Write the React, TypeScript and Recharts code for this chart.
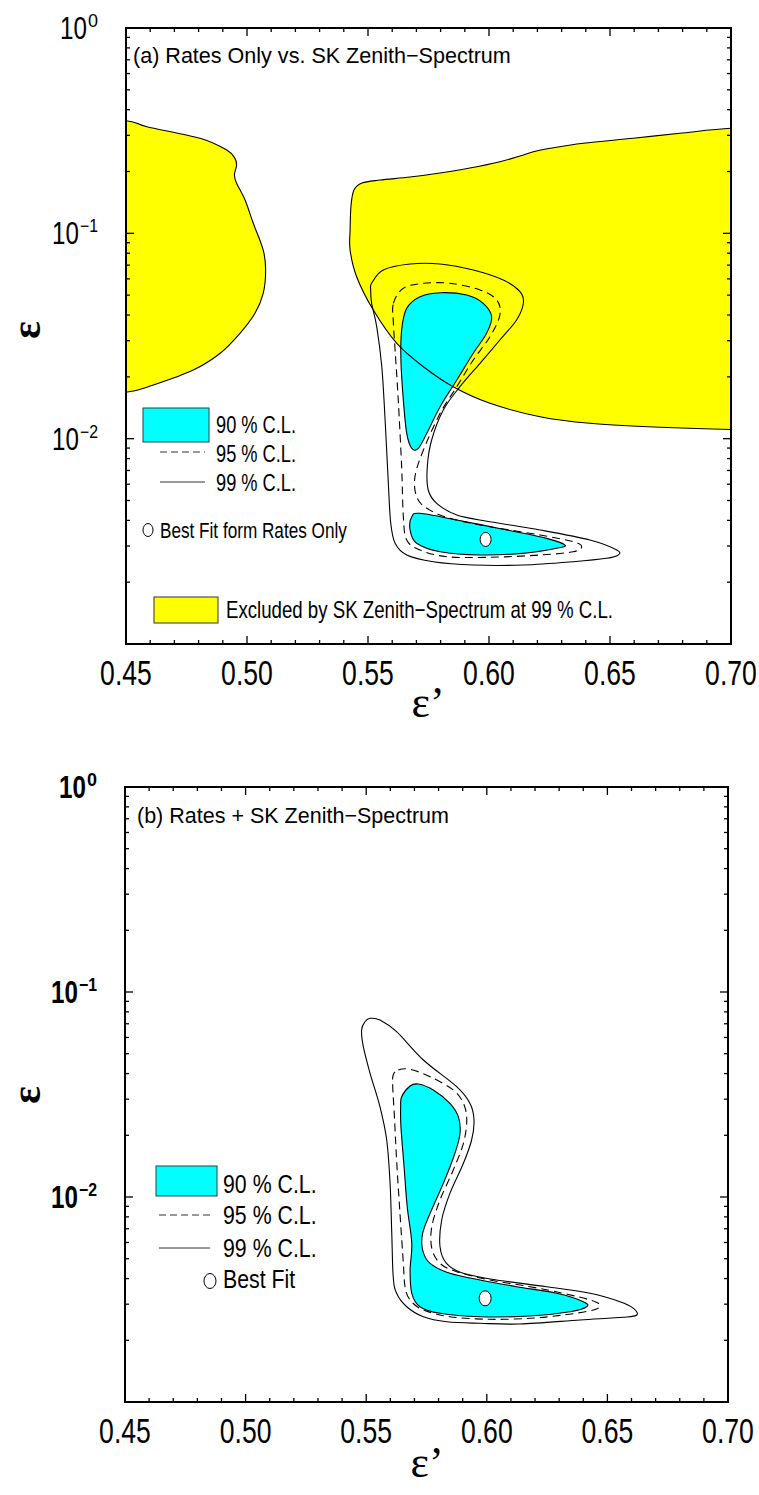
import { ScatterChart, Scatter, XAxis, YAxis, ReferenceArea } from 'recharts';

// axis ticks
const X_TICKS = [
    0.45, 0.46, 0.47, 0.48, 0.49, 0.5, 0.51, 0.52, 0.53, 0.54, 0.55, 0.56, 0.57,
    0.58, 0.59, 0.6, 0.61, 0.62, 0.63, 0.64, 0.65, 0.66, 0.67, 0.68, 0.69, 0.7
];
const Y_TICKS = [
    0.001, 0.002, 0.003, 0.004, 0.005, 0.006, 0.007, 0.008, 0.009,
    0.01, 0.02, 0.03, 0.04, 0.05, 0.06, 0.07, 0.08, 0.09,
    0.1, 0.2, 0.3, 0.4, 0.5, 0.6, 0.7, 0.8, 0.9, 1
];
const Y_EXP_LABELS: Record<string, string> = { '0': '0', '-1': '\u22121', '-2': '\u22122' };

// (a) excluded by SK zenith spectrum (yellow)
const yellowLeftA: [number, number][] = [
    [0.45, 0.3535], [0.4586, 0.3306], [0.4806, 0.2903], [0.4916, 0.2545], [0.495, 0.2319],
    [0.4957, 0.2152], [0.4948, 0.1923], [0.4957, 0.1753], [0.4992, 0.1453], [0.5026, 0.1119],
    [0.5067, 0.0829], [0.5077, 0.0663], [0.5067, 0.051], [0.5033, 0.0408], [0.4971, 0.0326],
    [0.4888, 0.026], [0.4778, 0.0216], [0.4613, 0.01826], [0.45, 0.01682],
    [0.43, 0.01682], [0.43, 0.3535]
];
const yellowRightA: [number, number][] = [
    [0.7, 0.3247], [0.6789, 0.3071], [0.6596, 0.2903], [0.639, 0.2745], [0.6252, 0.2595],
    [0.6183, 0.2498], [0.6128, 0.238], [0.6045, 0.2233], [0.5921, 0.208], [0.5798, 0.1967],
    [0.5674, 0.188], [0.555, 0.1818], [0.5475, 0.1758], [0.5442, 0.1626], [0.543, 0.1374],
    [0.5426, 0.1038], [0.5426, 0.0829], [0.5453, 0.0615], [0.5522, 0.0423], [0.5619, 0.0291],
    [0.5729, 0.0224], [0.5852, 0.0179], [0.6004, 0.01487], [0.6211, 0.01279], [0.6417, 0.01188],
    [0.6707, 0.01136], [0.7, 0.01108], [0.72, 0.01108], [0.72, 0.3247]
];

// (a) rates only contours
const c99A: [number, number][] = [
    [0.5515, 0.05709], [0.5563, 0.06629], [0.5674, 0.07089], [0.5798, 0.07089], [0.5935, 0.06629],
    [0.6059, 0.05925], [0.6128, 0.05195], [0.6142, 0.04563], [0.6114, 0.03784], [0.6045, 0.03023],
    [0.5963, 0.02328], [0.588, 0.01791], [0.5811, 0.01379], [0.5763, 0.00985], [0.5745, 0.0073],
    [0.5749, 0.005623], [0.5784, 0.004843], [0.5867, 0.004249], [0.6004, 0.003941], [0.6211, 0.003591],
    [0.6417, 0.00321], [0.6528, 0.002869], [0.6534, 0.002713], [0.6486, 0.002615], [0.6348, 0.002517],
    [0.6142, 0.002425], [0.5935, 0.002425], [0.577, 0.002517], [0.566, 0.002713], [0.5612, 0.003093],
    [0.5594, 0.003871], [0.5584, 0.006062], [0.557, 0.01279], [0.5557, 0.02241], [0.5536, 0.0351],
    [0.5515, 0.04563], [0.5511, 0.05297]
];
const c95A: [number, number][] = [
    [0.5605, 0.04563], [0.5646, 0.05399], [0.5729, 0.05709], [0.5839, 0.05709], [0.5963, 0.05297],
    [0.6032, 0.04735], [0.6045, 0.04002], [0.6004, 0.03137], [0.5935, 0.02416], [0.5867, 0.01791],
    [0.5798, 0.01329], [0.5729, 0.00881], [0.5694, 0.006528], [0.5701, 0.005217], [0.5743, 0.004579],
    [0.5839, 0.004094], [0.6004, 0.003726], [0.6211, 0.003395], [0.6348, 0.003148], [0.6383, 0.002977],
    [0.6348, 0.002814], [0.6211, 0.002713], [0.6004, 0.002644], [0.5825, 0.002662], [0.5715, 0.002869],
    [0.566, 0.00321], [0.5646, 0.004169], [0.5639, 0.0073], [0.5625, 0.01543], [0.5612, 0.02703],
    [0.5605, 0.03646]
];
const c90UpperA: [number, number][] = [
    [0.5639, 0.03382], [0.566, 0.04314], [0.5715, 0.04914], [0.5798, 0.05139], [0.5908, 0.05008],
    [0.5976, 0.04563], [0.6011, 0.03926], [0.599, 0.03259], [0.5935, 0.02604], [0.5867, 0.01931],
    [0.5798, 0.01431], [0.5743, 0.01062], [0.5708, 0.008975], [0.5681, 0.008975], [0.566, 0.01062],
    [0.5646, 0.01543], [0.5636, 0.02416]
];
const c90LowerA: [number, number][] = [
    [0.5681, 0.004169], [0.5715, 0.00433], [0.5867, 0.004017], [0.6073, 0.003591], [0.6238, 0.00327],
    [0.6314, 0.003034], [0.628, 0.002924], [0.6142, 0.002764], [0.5963, 0.002713], [0.5798, 0.002814],
    [0.5701, 0.003093], [0.5674, 0.003591]
];
const bestA: [number, number][] = [[0.5986, 0.00323]];

// (b) rates + SK zenith spectrum contours
const c99B: [number, number][] = [
    [0.5495, 0.07163], [0.5516, 0.07441], [0.5557, 0.07301], [0.5626, 0.06402], [0.5737, 0.04659],
    [0.5875, 0.03451], [0.593, 0.02865], [0.5947, 0.02375], [0.5937, 0.01897], [0.5903, 0.0146],
    [0.5847, 0.01042], [0.5813, 0.007723], [0.5806, 0.005721], [0.5833, 0.004748], [0.5902, 0.004244],
    [0.6041, 0.003937], [0.6248, 0.003651], [0.6428, 0.00339], [0.6552, 0.003085], [0.6608, 0.002864],
    [0.6622, 0.002657], [0.6566, 0.002589], [0.6387, 0.002512], [0.6138, 0.002402], [0.5972, 0.002421],
    [0.5834, 0.002464], [0.5737, 0.002606], [0.5668, 0.002916], [0.5626, 0.00339], [0.5612, 0.004085],
    [0.5606, 0.006651], [0.5599, 0.01166], [0.5585, 0.01897], [0.5557, 0.02757], [0.5516, 0.04013],
    [0.5488, 0.05409], [0.5481, 0.06526]
];
const c95B: [number, number][] = [
    [0.5633, 0.04165], [0.5682, 0.04197], [0.5765, 0.03862], [0.5861, 0.03327], [0.5903, 0.02865],
    [0.5917, 0.02375], [0.5903, 0.01828], [0.5861, 0.01354], [0.5806, 0.009669], [0.5772, 0.007163],
    [0.5772, 0.00562], [0.5806, 0.004748], [0.5875, 0.004321], [0.6013, 0.003937], [0.6179, 0.003651],
    [0.6317, 0.00339], [0.6428, 0.003145], [0.6469, 0.002973], [0.6442, 0.002811], [0.6317, 0.002657],
    [0.6179, 0.002561], [0.6013, 0.002532], [0.5847, 0.002606], [0.5737, 0.002811], [0.5682, 0.003145],
    [0.5661, 0.003651], [0.5654, 0.004748], [0.564, 0.008327], [0.5626, 0.01516], [0.5617, 0.02465],
    [0.561, 0.03451], [0.5612, 0.03937]
];
const c90B: [number, number][] = [
    [0.5647, 0.03085], [0.5682, 0.03479], [0.5716, 0.03558], [0.5778, 0.03327], [0.5847, 0.02865],
    [0.5882, 0.02465], [0.5889, 0.02045], [0.5868, 0.01634], [0.582, 0.01166], [0.5765, 0.008327],
    [0.5734, 0.006651], [0.5734, 0.005513], [0.5765, 0.004748], [0.5847, 0.004244], [0.5972, 0.003937],
    [0.6124, 0.003651], [0.629, 0.00339], [0.64, 0.003085], [0.6414, 0.002916], [0.6345, 0.002757],
    [0.6179, 0.002627], [0.5972, 0.002606], [0.5806, 0.002708], [0.5723, 0.002916], [0.5689, 0.00339],
    [0.5682, 0.004405], [0.5689, 0.005942], [0.567, 0.008969], [0.5657, 0.01405], [0.5644, 0.02203],
    [0.5643, 0.02757]
];
const bestB: [number, number][] = [[0.5993, 0.003205]];

const CYAN = '#00ffff';
const YELLOW = '#ffff00';
const FONT = '"Liberation Sans", Arial, sans-serif';
const SERIF = '"Liberation Serif", "DejaVu Serif", serif';

const toPts = (arr: [number, number][]) => arr.map(([x, y]) => ({ x, y }));

// closed Catmull-Rom path through the pixel points recharts hands us
const closedPath = (pts: { x: number; y: number }[]) => {
    const n = pts.length;
    if (n < 3) return '';
    let d = `M${pts[0].x},${pts[0].y}`;
    for (let i = 0; i < n; i++) {
        const p0 = pts[(i - 1 + n) % n];
        const p1 = pts[i];
        const p2 = pts[(i + 1) % n];
        const p3 = pts[(i + 2) % n];
        d += `C${p1.x + (p2.x - p0.x) / 6},${p1.y + (p2.y - p0.y) / 6} ${p2.x - (p3.x - p1.x) / 6},${p2.y - (p3.y - p1.y) / 6} ${p2.x},${p2.y}`;
    }
    return d + 'Z';
};

const region = (fill: string, stroke: string, dash?: string) => (props: any) => {
    const pts = (props.points || []).filter((p: any) => p.x != null && p.y != null);
    return (
        <path
            d={closedPath(pts)}
            fill={fill}
            stroke={stroke}
            strokeWidth={1.1}
            strokeDasharray={dash}
            strokeLinejoin="round"
        />
    );
};

const noDot = () => <g />;

// condensed text: the original lettering is narrow, so squeeze it horizontally
const Ctext = ({ x, y, size, sx, anchor = 'start', weight = 'normal', family = FONT, children }: any) => (
    <text
        transform={`translate(${x},${y}) scale(${sx},1)`}
        fontSize={size}
        fontFamily={family}
        fontWeight={weight}
        textAnchor={anchor}
        fill="#000"
    >
        {children}
    </text>
);

const makeXTick = (ph: number) => (props: any) => {
    const { x, y, payload } = props;
    const v = payload.value as number;
    const major = Math.round(v * 100) % 5 === 0;
    const len = major ? 8 : 4;
    return (
        <g>
            <line x1={x} y1={y} x2={x} y2={y - len} stroke="#000" strokeWidth={1.3} />
            <line x1={x} y1={y - ph} x2={x} y2={y - ph + len} stroke="#000" strokeWidth={1.3} />
            {major && (
                <Ctext x={x} y={y + 41} size={35} sx={0.76} anchor="middle">{v.toFixed(2)}</Ctext>
            )}
        </g>
    );
};

const makeYTick = (pw: number, bold: boolean) => (props: any) => {
    const { x, y, payload } = props;
    const v = payload.value as number;
    const lg = Math.log10(v);
    const e = Math.round(lg);
    const major = Math.abs(lg - e) < 1e-6;
    const len = major ? 8 : 4;
    const exp = Y_EXP_LABELS[String(e)];
    const supW = e === 0 ? 10 : 18;
    const supStart = x - 28 - supW;
    const w = bold ? 'bold' : 'normal';
    return (
        <g>
            <line x1={x} y1={y} x2={x + len} y2={y} stroke="#000" strokeWidth={1.3} />
            <line x1={x + pw} y1={y} x2={x + pw - len} y2={y} stroke="#000" strokeWidth={1.3} />
            {major && exp && (
                <g>
                    <Ctext x={supStart - 1} y={y + 11} size={31} sx={0.78} anchor="end" weight={w}>10</Ctext>
                    <Ctext x={supStart} y={y - 1} size={18} sx={e === 0 ? 1 : 0.88} weight={w}>{exp}</Ctext>
                </g>
            )}
        </g>
    );
};

interface PanelProps {
    height: number;
    margin: { top: number; right: number; bottom: number; left: number };
    pw: number;
    ph: number;
    bold: boolean;
    children: any;
}

const Panel = ({ height, margin, pw, ph, bold, children }: PanelProps) => (
    <ScatterChart width={759} height={height} margin={margin}>
        <XAxis
            type="number"
            dataKey="x"
            domain={[0.45, 0.7]}
            ticks={X_TICKS}
            interval={0}
            allowDataOverflow
            axisLine={false}
            tickLine={false}
            tickSize={0}
            tickMargin={0}
            height={60}
            tick={makeXTick(ph)}
            zIndex={1500}
        />
        <YAxis
            type="number"
            dataKey="y"
            scale="log"
            domain={[0.001, 1]}
            ticks={Y_TICKS}
            interval={0}
            allowDataOverflow
            axisLine={false}
            tickLine={false}
            tickSize={0}
            tickMargin={0}
            width={60}
            tick={makeYTick(pw, bold)}
            zIndex={1500}
        />
        {children}
        <ReferenceArea
            x1={0.45}
            x2={0.7}
            y1={0.001}
            y2={1}
            fill="none"
            fillOpacity={0}
            stroke="#000"
            strokeWidth={2}
            strokeOpacity={1}
            zIndex={1600}
        />
    </ScatterChart>
);

const App = () => {
    return (
        <div style={{ position: 'absolute', left: 0, top: 0, width: 759, height: 1495, background: '#fff' }}>
            <div style={{ position: 'absolute', left: 0, top: 0 }}>
                <Panel height={740} margin={{ top: 28, right: 28, bottom: 36, left: 66 }} pw={605} ph={616} bold={false}>
                    <Scatter data={toPts(yellowLeftA)} fill={YELLOW} line={region(YELLOW, 'none')} shape={noDot} isAnimationActive={false} />
                    <Scatter data={toPts(yellowRightA)} fill={YELLOW} line={region(YELLOW, 'none')} shape={noDot} isAnimationActive={false} />
                    <Scatter data={toPts(c90UpperA)} fill={CYAN} line={region(CYAN, '#000')} shape={noDot} isAnimationActive={false} />
                    <Scatter data={toPts(c90LowerA)} fill={CYAN} line={region(CYAN, '#000')} shape={noDot} isAnimationActive={false} />
                    <Scatter data={toPts(c95A)} fill="#000" line={region('none', '#000', '8 5')} shape={noDot} isAnimationActive={false} />
                    <Scatter data={toPts(c99A)} fill="#000" line={region('none', '#000')} shape={noDot} isAnimationActive={false} />
                    <Scatter data={toPts(yellowLeftA)} fill="#000" line={region('none', '#000')} shape={noDot} isAnimationActive={false} />
                    <Scatter data={toPts(yellowRightA)} fill="#000" line={region('none', '#000')} shape={noDot} isAnimationActive={false} />
                    <Scatter
                        data={toPts(bestA)}
                        fill="#fff"
                        shape={(p: any) => <ellipse cx={p.cx} cy={p.cy} rx={5.5} ry={7} fill="#fff" stroke="#000" strokeWidth={1} />}
                        isAnimationActive={false}
                    />
                </Panel>
            </div>
            <div style={{ position: 'absolute', left: 0, top: 740 }}>
                <Panel height={755} margin={{ top: 47, right: 31, bottom: 33, left: 65 }} pw={603} ph={615} bold={true}>
                    <Scatter data={toPts(c90B)} fill={CYAN} line={region(CYAN, '#000')} shape={noDot} isAnimationActive={false} />
                    <Scatter data={toPts(c95B)} fill="#000" line={region('none', '#000', '8 5')} shape={noDot} isAnimationActive={false} />
                    <Scatter data={toPts(c99B)} fill="#000" line={region('none', '#000')} shape={noDot} isAnimationActive={false} />
                    <Scatter
                        data={toPts(bestB)}
                        fill="#fff"
                        shape={(p: any) => <ellipse cx={p.cx} cy={p.cy} rx={6} ry={7.5} fill="#fff" stroke="#000" strokeWidth={1} />}
                        isAnimationActive={false}
                    />
                </Panel>
            </div>

            {/* titles, axis names and legends */}
            <svg width={759} height={1495} style={{ position: 'absolute', left: 0, top: 0, pointerEvents: 'none' }}>
                {/* panel (a) */}
                <Ctext x={133} y={63} size={22} sx={0.98}>(a) Rates Only vs. SK Zenith{'\u2212'}Spectrum</Ctext>
                <text transform="translate(40,330) rotate(-90)" textAnchor="middle" fontSize={42}
                    fontFamily={SERIF} fontWeight="bold" fill="#000">ε</text>
                <text x={428} y={717} textAnchor="middle" fontSize={44} fontFamily={SERIF} fill="#000">ε’</text>

                <rect x={143} y={408} width={66} height={34} fill={CYAN} stroke="#244" strokeWidth={1} />
                <Ctext x={216} y={433} size={24} sx={0.76}>90 % C.L.</Ctext>
                <line x1={160} y1={452} x2={205} y2={452} stroke="#333" strokeWidth={1} strokeDasharray="7 4" />
                <Ctext x={216} y={462} size={24} sx={0.76}>95 % C.L.</Ctext>
                <line x1={160} y1={482} x2={205} y2={482} stroke="#333" strokeWidth={1} />
                <Ctext x={216} y={491} size={24} sx={0.76}>99 % C.L.</Ctext>
                <ellipse cx={148} cy={530} rx={5} ry={6.5} fill="#fff" stroke="#000" strokeWidth={1} />
                <Ctext x={160} y={538} size={22} sx={0.78}>Best Fit form Rates Only</Ctext>
                <rect x={154} y={597} width={64} height={26} fill={YELLOW} stroke="#333" strokeWidth={1} />
                <Ctext x={226} y={618} size={24} sx={0.777}>Excluded by SK Zenith{'\u2212'}Spectrum at 99 % C.L.</Ctext>

                {/* panel (b) */}
                <Ctext x={137} y={823} size={22} sx={0.978}>(b) Rates + SK Zenith{'\u2212'}Spectrum</Ctext>
                <text transform="translate(40,1095) rotate(-90)" textAnchor="middle" fontSize={42}
                    fontFamily={SERIF} fontWeight="bold" fill="#000">ε</text>
                <text x={427} y={1477} textAnchor="middle" fontSize={44} fontFamily={SERIF} fill="#000">ε’</text>

                <rect x={156} y={1166} width={61} height={30} fill={CYAN} stroke="#244" strokeWidth={1} />
                <Ctext x={223} y={1193} size={26} sx={0.82}>90 % C.L.</Ctext>
                <line x1={159} y1={1215} x2={210} y2={1215} stroke="#333" strokeWidth={1} strokeDasharray="7 4" />
                <Ctext x={223} y={1224} size={26} sx={0.82}>95 % C.L.</Ctext>
                <line x1={159} y1={1248} x2={210} y2={1248} stroke="#333" strokeWidth={1} />
                <Ctext x={223} y={1257} size={26} sx={0.82}>99 % C.L.</Ctext>
                <ellipse cx={210} cy={1281} rx={6} ry={7.5} fill="#fff" stroke="#000" strokeWidth={1} />
                <Ctext x={223} y={1288} size={26} sx={0.82}>Best Fit</Ctext>
            </svg>
        </div>
    );
};

export default App;
